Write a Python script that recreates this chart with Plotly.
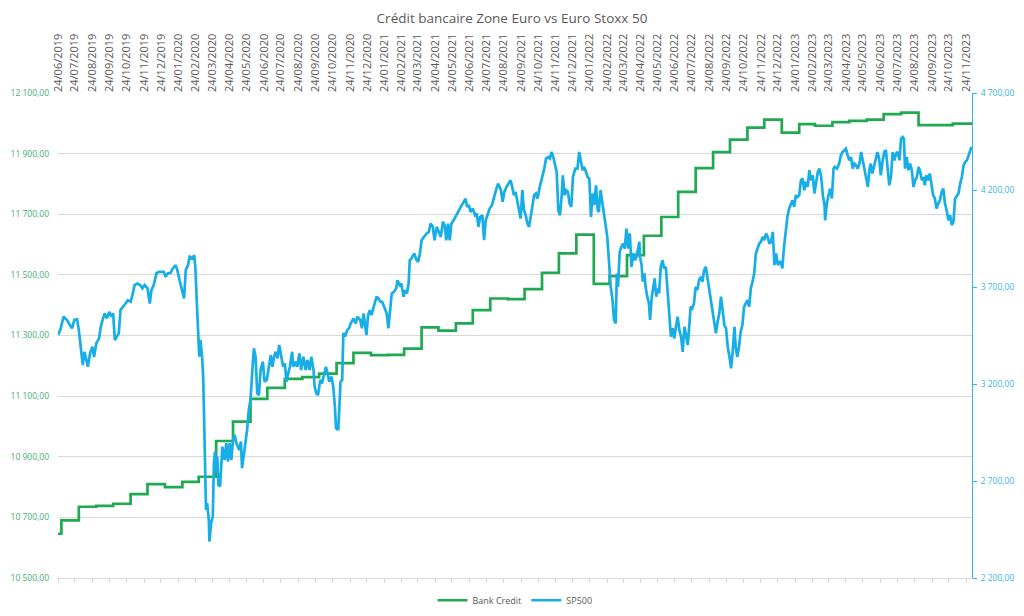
import plotly.graph_objects as go

# ---------------- data ----------------
bank_dates = ["2019-06-24", "2019-06-30", "2019-07-31", "2019-08-31", "2019-09-30", "2019-10-31",
              "2019-11-30", "2019-12-31", "2020-01-31", "2020-02-29", "2020-03-31", "2020-04-30",
              "2020-05-31", "2020-06-30", "2020-07-31", "2020-08-31", "2020-09-30", "2020-10-31",
              "2020-11-30", "2020-12-31", "2021-01-31", "2021-02-28", "2021-03-31", "2021-04-30",
              "2021-05-31", "2021-06-30", "2021-07-31", "2021-08-31", "2021-09-30", "2021-10-31",
              "2021-11-30", "2021-12-31", "2022-01-31", "2022-02-28", "2022-03-31", "2022-04-30",
              "2022-05-31", "2022-06-30", "2022-07-31", "2022-08-31", "2022-09-30", "2022-10-31",
              "2022-11-30", "2022-12-31", "2023-01-31", "2023-02-28", "2023-03-31", "2023-04-30",
              "2023-05-31", "2023-06-30", "2023-07-31", "2023-08-31", "2023-09-30", "2023-10-31",
              "2023-12-04"]
bank_values = [10646, 10690, 10735, 10738, 10745, 10777,
               10810, 10800, 10817, 10834, 10952, 11016,
               11091, 11127, 11157, 11163, 11174, 11209,
               11243, 11235, 11236, 11257, 11327, 11316,
               11340, 11384, 11422, 11420, 11453, 11507,
               11571, 11633, 11470, 11496, 11565, 11629,
               11691, 11774, 11852, 11905, 11946, 11986,
               12012, 11969, 11997, 11992, 12004, 12008,
               12012, 12030, 12035, 11994, 11994, 11999,
               11999]

sp500_2019 = [
    ("2019-06-24", 3452), ("2019-06-28", 3478), ("2019-07-04", 3547), ("2019-07-10", 3530),
    ("2019-07-15", 3504), ("2019-07-19", 3487), ("2019-07-23", 3530), ("2019-07-28", 3533),
    ("2019-07-31", 3478), ("2019-08-04", 3375), ("2019-08-07", 3298), ("2019-08-10", 3366),
    ("2019-08-14", 3324), ("2019-08-16", 3289), ("2019-08-20", 3358), ("2019-08-24", 3392),
    ("2019-08-27", 3341), ("2019-08-31", 3409), ("2019-09-05", 3435), ("2019-09-08", 3495),
    ("2019-09-12", 3538), ("2019-09-15", 3564), ("2019-09-19", 3538), ("2019-09-23", 3572),
    ("2019-09-27", 3547), ("2019-09-30", 3564), ("2019-10-03", 3427), ("2019-10-07", 3444),
    ("2019-10-10", 3461), ("2019-10-13", 3581), ("2019-10-18", 3598), ("2019-10-22", 3615),
    ("2019-10-26", 3632), ("2019-10-31", 3624), ("2019-11-04", 3667), ("2019-11-07", 3710),
    ("2019-11-12", 3718), ("2019-11-17", 3710), ("2019-11-21", 3693), ("2019-11-25", 3710),
    ("2019-11-30", 3693), ("2019-12-04", 3615), ("2019-12-07", 3684), ("2019-12-11", 3710),
    ("2019-12-16", 3770), ("2019-12-20", 3778), ("2019-12-25", 3778), ("2019-12-29", 3778),
]
sp500_2020 = [
    ("2020-01-01", 3753), ("2020-01-05", 3770), ("2020-01-10", 3773), ("2020-01-14", 3796),
    ("2020-01-19", 3813), ("2020-01-22", 3787), ("2020-01-26", 3735), ("2020-01-30", 3693),
    ("2020-02-03", 3641), ("2020-02-06", 3787), ("2020-02-10", 3813), ("2020-02-13", 3856),
    ("2020-02-18", 3847), ("2020-02-21", 3864), ("2020-02-23", 3804), ("2020-02-26", 3598),
    ("2020-02-28", 3444), ("2020-03-01", 3341), ("2020-03-03", 3427), ("2020-03-06", 3341),
    ("2020-03-08", 3238), ("2020-03-10", 2912), ("2020-03-13", 2551), ("2020-03-15", 2586),
    ("2020-03-18", 2500), ("2020-03-19", 2388), ("2020-03-22", 2483), ("2020-03-25", 2517),
    ("2020-03-27", 2792), ("2020-03-29", 2852), ("2020-03-31", 2749), ("2020-04-02", 2826),
    ("2020-04-04", 2680), ("2020-04-07", 2672), ("2020-04-09", 2792), ("2020-04-11", 2877),
    ("2020-04-15", 2809), ("2020-04-18", 2895), ("2020-04-21", 2800), ("2020-04-24", 2895),
    ("2020-04-27", 2809), ("2020-04-30", 2912), ("2020-05-03", 2937), ("2020-05-06", 2895),
    ("2020-05-11", 2860), ("2020-05-14", 2903), ("2020-05-16", 2766), ("2020-05-19", 2826),
    ("2020-05-22", 2912), ("2020-05-25", 2963), ("2020-05-28", 3066), ("2020-05-31", 3118),
    ("2020-06-03", 3255), ("2020-06-06", 3384), ("2020-06-09", 3341), ("2020-06-12", 3152),
    ("2020-06-15", 3143), ("2020-06-18", 3272), ("2020-06-22", 3315), ("2020-06-25", 3212),
    ("2020-06-29", 3221), ("2020-07-03", 3306), ("2020-07-06", 3349), ("2020-07-09", 3289),
    ("2020-07-12", 3341), ("2020-07-15", 3366), ("2020-07-18", 3332), ("2020-07-21", 3401),
    ("2020-07-25", 3324), ("2020-07-28", 3289), ("2020-07-31", 3306), ("2020-08-03", 3212),
    ("2020-08-06", 3255), ("2020-08-09", 3289), ("2020-08-13", 3366), ("2020-08-15", 3289),
    ("2020-08-19", 3315), ("2020-08-22", 3289), ("2020-08-26", 3358), ("2020-08-29", 3272),
    ("2020-09-02", 3341), ("2020-09-06", 3272), ("2020-09-09", 3324), ("2020-09-13", 3272),
    ("2020-09-16", 3341), ("2020-09-20", 3272), ("2020-09-22", 3186), ("2020-09-25", 3152),
    ("2020-09-28", 3143), ("2020-10-02", 3221), ("2020-10-05", 3203), ("2020-10-09", 3255),
    ("2020-10-12", 3289), ("2020-10-15", 3255), ("2020-10-18", 3212), ("2020-10-22", 3238),
    ("2020-10-25", 3186), ("2020-10-28", 3083), ("2020-10-30", 2972), ("2020-11-03", 2963),
    ("2020-11-05", 3118), ("2020-11-07", 3212), ("2020-11-10", 3221), ("2020-11-12", 3461),
    ("2020-11-16", 3452), ("2020-11-19", 3478), ("2020-11-22", 3487), ("2020-11-25", 3512),
    ("2020-11-30", 3538), ("2020-12-04", 3512), ("2020-12-07", 3547), ("2020-12-12", 3530),
    ("2020-12-15", 3487), ("2020-12-18", 3564), ("2020-12-20", 3521), ("2020-12-23", 3452),
    ("2020-12-26", 3555), ("2020-12-29", 3581),
]
sp500_2021 = [
    ("2021-01-01", 3555), ("2021-01-05", 3598), ("2021-01-10", 3650), ("2021-01-13", 3641),
    ("2021-01-17", 3624), ("2021-01-20", 3624), ("2021-01-23", 3598), ("2021-01-28", 3564),
    ("2021-01-31", 3487), ("2021-02-03", 3564), ("2021-02-06", 3667), ("2021-02-10", 3675),
    ("2021-02-14", 3693), ("2021-02-16", 3735), ("2021-02-20", 3710), ("2021-02-23", 3718),
    ("2021-02-27", 3650), ("2021-03-02", 3684), ("2021-03-05", 3667), ("2021-03-08", 3718),
    ("2021-03-10", 3838), ("2021-03-13", 3847), ("2021-03-18", 3873), ("2021-03-22", 3838),
    ("2021-03-25", 3830), ("2021-03-28", 3873), ("2021-03-31", 3941), ("2021-04-04", 3958),
    ("2021-04-09", 3976), ("2021-04-13", 3984), ("2021-04-16", 4027), ("2021-04-20", 4010),
    ("2021-04-23", 3941), ("2021-04-27", 4010), ("2021-05-01", 3984), ("2021-05-04", 3958),
    ("2021-05-08", 4036), ("2021-05-11", 4019), ("2021-05-14", 3941), ("2021-05-17", 4027),
    ("2021-05-20", 3941), ("2021-05-23", 4027), ("2021-05-27", 4044), ("2021-05-31", 4070),
    ("2021-06-04", 4087), ("2021-06-07", 4104), ("2021-06-10", 4122), ("2021-06-14", 4139),
    ("2021-06-17", 4156), ("2021-06-20", 4113), ("2021-06-23", 4122), ("2021-06-26", 4087),
    ("2021-06-30", 4104), ("2021-07-04", 4070), ("2021-07-07", 4079), ("2021-07-10", 4010),
    ("2021-07-13", 4061), ("2021-07-17", 4070), ("2021-07-20", 3941), ("2021-07-23", 4044),
    ("2021-07-26", 4070), ("2021-07-30", 4104), ("2021-08-03", 4122), ("2021-08-07", 4173),
    ("2021-08-11", 4207), ("2021-08-14", 4233), ("2021-08-19", 4199), ("2021-08-22", 4139),
    ("2021-08-25", 4190), ("2021-08-29", 4216), ("2021-09-01", 4233), ("2021-09-05", 4250),
    ("2021-09-08", 4216), ("2021-09-11", 4173), ("2021-09-14", 4190), ("2021-09-17", 4147),
    ("2021-09-20", 4113), ("2021-09-23", 4053), ("2021-09-26", 4199), ("2021-09-29", 4096),
    ("2021-10-02", 4070), ("2021-10-05", 4027), ("2021-10-08", 4010), ("2021-10-11", 4061),
    ("2021-10-14", 4104), ("2021-10-17", 4173), ("2021-10-20", 4182), ("2021-10-23", 4156),
    ("2021-10-27", 4216), ("2021-10-31", 4259), ("2021-11-04", 4310), ("2021-11-07", 4362),
    ("2021-11-11", 4370), ("2021-11-14", 4362), ("2021-11-17", 4396), ("2021-11-20", 4370),
    ("2021-11-23", 4336), ("2021-11-26", 4293), ("2021-11-29", 4096), ("2021-12-02", 4070),
    ("2021-12-05", 4173), ("2021-12-07", 4276), ("2021-12-10", 4173), ("2021-12-13", 4199),
    ("2021-12-16", 4190), ("2021-12-19", 4130), ("2021-12-22", 4113), ("2021-12-25", 4267),
    ("2021-12-29", 4310),
]
sp500_2022 = [
    ("2022-01-02", 4310), ("2022-01-05", 4396), ("2022-01-08", 4353), ("2022-01-11", 4302),
    ("2022-01-14", 4319), ("2022-01-17", 4293), ("2022-01-20", 4267), ("2022-01-23", 4259),
    ("2022-01-26", 4061), ("2022-01-29", 4182), ("2022-02-01", 4122), ("2022-02-04", 4224),
    ("2022-02-07", 4096), ("2022-02-09", 4087), ("2022-02-12", 4199), ("2022-02-15", 4139),
    ("2022-02-18", 4079), ("2022-02-21", 4001), ("2022-02-24", 3958), ("2022-02-27", 3830),
    ("2022-03-02", 3701), ("2022-03-05", 3641), ("2022-03-08", 3530), ("2022-03-11", 3512),
    ("2022-03-13", 3770), ("2022-03-15", 3701), ("2022-03-18", 3881), ("2022-03-21", 3907),
    ("2022-03-24", 3924), ("2022-03-27", 3898), ("2022-03-30", 4001), ("2022-04-02", 3898),
    ("2022-04-05", 3976), ("2022-04-08", 3804), ("2022-04-11", 3873), ("2022-04-14", 3838),
    ("2022-04-17", 3856), ("2022-04-22", 3933), ("2022-04-23", 3856), ("2022-04-26", 3813),
    ("2022-04-28", 3727), ("2022-05-01", 3770), ("2022-05-03", 3701), ("2022-05-06", 3650),
    ("2022-05-09", 3615), ("2022-05-11", 3530), ("2022-05-14", 3650), ("2022-05-17", 3701),
    ("2022-05-19", 3744), ("2022-05-22", 3650), ("2022-05-24", 3693), ("2022-05-27", 3667),
    ("2022-05-30", 3804), ("2022-06-02", 3838), ("2022-06-05", 3796), ("2022-06-08", 3804),
    ("2022-06-11", 3667), ("2022-06-14", 3564), ("2022-06-17", 3444), ("2022-06-20", 3487),
    ("2022-06-23", 3435), ("2022-06-26", 3495), ("2022-06-29", 3547), ("2022-07-02", 3478),
    ("2022-07-05", 3444), ("2022-07-08", 3366), ("2022-07-11", 3495), ("2022-07-14", 3452),
    ("2022-07-17", 3401), ("2022-07-20", 3512), ("2022-07-22", 3598), ("2022-07-25", 3590),
    ("2022-07-28", 3615), ("2022-07-31", 3701), ("2022-08-03", 3684), ("2022-08-06", 3735),
    ("2022-08-09", 3753), ("2022-08-12", 3727), ("2022-08-15", 3787), ("2022-08-18", 3804),
    ("2022-08-21", 3744), ("2022-08-24", 3684), ("2022-08-27", 3650), ("2022-08-30", 3581),
    ("2022-09-02", 3512), ("2022-09-05", 3461), ("2022-09-08", 3521), ("2022-09-11", 3564),
    ("2022-09-14", 3650), ("2022-09-17", 3564), ("2022-09-20", 3504), ("2022-09-23", 3487),
    ("2022-09-26", 3392), ("2022-09-29", 3341), ("2022-10-02", 3281), ("2022-10-05", 3375),
    ("2022-10-08", 3495), ("2022-10-10", 3392), ("2022-10-13", 3341), ("2022-10-16", 3392),
    ("2022-10-19", 3469), ("2022-10-22", 3504), ("2022-10-25", 3598), ("2022-10-28", 3615),
    ("2022-10-31", 3632), ("2022-11-03", 3598), ("2022-11-06", 3693), ("2022-11-09", 3727),
    ("2022-11-12", 3770), ("2022-11-15", 3873), ("2022-11-18", 3898), ("2022-11-21", 3924),
    ("2022-11-24", 3933), ("2022-11-27", 3958), ("2022-11-30", 3941), ("2022-12-03", 3976),
    ("2022-12-06", 3958), ("2022-12-09", 3924), ("2022-12-12", 3933), ("2022-12-15", 3984),
    ("2022-12-18", 3813), ("2022-12-21", 3873), ("2022-12-24", 3813), ("2022-12-27", 3830),
    ("2022-12-29", 3830),
]
sp500_2023 = [
    ("2023-01-01", 3796), ("2023-01-04", 3907), ("2023-01-07", 3993), ("2023-01-10", 4061),
    ("2023-01-13", 4104), ("2023-01-16", 4130), ("2023-01-19", 4147), ("2023-01-22", 4113),
    ("2023-01-25", 4173), ("2023-01-28", 4164), ("2023-01-31", 4173), ("2023-02-03", 4250),
    ("2023-02-06", 4259), ("2023-02-09", 4199), ("2023-02-12", 4242), ("2023-02-15", 4216),
    ("2023-02-18", 4302), ("2023-02-21", 4250), ("2023-02-24", 4276), ("2023-02-27", 4182),
    ("2023-03-02", 4250), ("2023-03-05", 4293), ("2023-03-08", 4310), ("2023-03-11", 4267),
    ("2023-03-14", 4173), ("2023-03-17", 4122), ("2023-03-18", 4044), ("2023-03-21", 4130),
    ("2023-03-24", 4173), ("2023-03-27", 4207), ("2023-03-30", 4156), ("2023-04-02", 4310),
    ("2023-04-04", 4319), ("2023-04-08", 4310), ("2023-04-12", 4336), ("2023-04-15", 4379),
    ("2023-04-18", 4396), ("2023-04-21", 4405), ("2023-04-24", 4413), ("2023-04-27", 4379),
    ("2023-04-30", 4353), ("2023-05-03", 4370), ("2023-05-06", 4310), ("2023-05-09", 4336),
    ("2023-05-12", 4327), ("2023-05-15", 4310), ("2023-05-18", 4336), ("2023-05-21", 4396),
    ("2023-05-24", 4353), ("2023-05-27", 4302), ("2023-05-30", 4267), ("2023-06-02", 4216),
    ("2023-06-05", 4310), ("2023-06-07", 4336), ("2023-06-10", 4285), ("2023-06-13", 4327),
    ("2023-06-16", 4370), ("2023-06-19", 4396), ("2023-06-22", 4362), ("2023-06-25", 4276),
    ("2023-06-28", 4345), ("2023-07-01", 4396), ("2023-07-04", 4405), ("2023-07-07", 4319),
    ("2023-07-10", 4224), ("2023-07-13", 4267), ("2023-07-16", 4396), ("2023-07-19", 4353),
    ("2023-07-22", 4387), ("2023-07-25", 4396), ("2023-07-28", 4353), ("2023-07-31", 4465),
    ("2023-08-03", 4473), ("2023-08-05", 4465), ("2023-08-07", 4310), ("2023-08-10", 4370),
    ("2023-08-13", 4302), ("2023-08-16", 4336), ("2023-08-19", 4302), ("2023-08-22", 4216),
    ("2023-08-25", 4250), ("2023-08-28", 4267), ("2023-08-31", 4319), ("2023-09-03", 4293),
    ("2023-09-06", 4250), ("2023-09-09", 4267), ("2023-09-11", 4224), ("2023-09-14", 4276),
    ("2023-09-17", 4250), ("2023-09-20", 4285), ("2023-09-23", 4233), ("2023-09-26", 4173),
    ("2023-09-29", 4156), ("2023-10-02", 4104), ("2023-10-05", 4130), ("2023-10-08", 4147),
    ("2023-10-11", 4190), ("2023-10-14", 4207), ("2023-10-17", 4130), ("2023-10-20", 4096),
    ("2023-10-23", 4044), ("2023-10-26", 4070), ("2023-10-29", 4019), ("2023-11-01", 4036),
    ("2023-11-04", 4156), ("2023-11-07", 4173), ("2023-11-10", 4182), ("2023-11-13", 4233),
    ("2023-11-16", 4267), ("2023-11-19", 4327), ("2023-11-22", 4345), ("2023-11-25", 4353),
    ("2023-11-28", 4379), ("2023-11-30", 4396), ("2023-12-03", 4422),
]

# monthly tick positions / labels (24th of each month, 06/2019 .. 11/2023)
tick_months = [(2019 + (5 + i) // 12, (5 + i) % 12 + 1) for i in range(54)]
tick_dates = [f"{y}-{m:02d}-24" for y, m in tick_months]
tick_labels = [f"24/{m:02d}/{y}" for y, m in tick_months]

x_range = ["2019-06-24", "2023-12-04"]
left_range = [10500, 12100]
right_range = [2200, 4700]

# ---------------- figure ----------------
sp500 = sp500_2019 + sp500_2020 + sp500_2021 + sp500_2022 + sp500_2023
sp_dates = [d for d, _ in sp500]
sp_values = [v for _, v in sp500]

GREEN = "#1FAA52"
BLUE = "#17AEE8"
GREEN_TXT = "#3FAE72"
BLUE_TXT = "#35B6E6"
GRID = "#D9D9D9"
FONT = "Open Sans"

fig = go.Figure()
fig.add_trace(go.Scatter(x=bank_dates, y=bank_values, name="Bank Credit", mode="lines",
                         line=dict(color=GREEN, width=2.7, shape="hv"),
                         xaxis="x", yaxis="y"))
fig.add_trace(go.Scatter(x=sp_dates, y=sp_values, name="SP500", mode="lines",
                         line=dict(color=BLUE, width=2.7),
                         xaxis="x", yaxis="y2"))
# carrier trace so the top date axis is drawn
fig.add_trace(go.Scatter(x=[bank_dates[0]], y=[bank_values[0]], mode="markers",
                         marker=dict(opacity=0), showlegend=False, hoverinfo="skip",
                         xaxis="x2", yaxis="y"))

# the page body adds an 8px offset, so the figure is 1008x600 inside the 1024x616 window
fig.update_layout(
    width=1008, height=600,
    margin=dict(l=50, r=44, t=85, b=30, autoexpand=False),
    paper_bgcolor="white", plot_bgcolor="white",
    separators=", ",
    font=dict(family=FONT, color="#595959"),
    title=dict(text="Crédit bancaire Zone Euro vs Euro Stoxx 50", x=0.5, xanchor="center",
               y=0.983, yanchor="middle", font=dict(family=FONT, size=13.5, color="#595959")),
    xaxis=dict(type="date", range=x_range, showgrid=False, zeroline=False, automargin=False,
               showline=True, linecolor=GRID, linewidth=1,
               tickmode="array", tickvals=tick_dates, showticklabels=False,
               ticks="outside", ticklen=4, tickcolor=GRID),
    xaxis2=dict(type="date", range=x_range, overlaying="x", side="top", anchor="y",
                showgrid=False, zeroline=False, showline=False, automargin=False,
                tickmode="array", tickvals=tick_dates, ticktext=tick_labels,
                tickangle=-90, ticks="", tickfont=dict(family=FONT, size=11, color="#595959")),
    yaxis=dict(range=left_range, tick0=10500, dtick=200, tickformat=",.2f", automargin=False,
               showgrid=True, gridcolor=GRID, gridwidth=1, zeroline=False, showline=False,
               ticks="", ticklabelstandoff=8,
               tickfont=dict(family=FONT, size=8.5, color=GREEN_TXT)),
    yaxis2=dict(range=right_range, tick0=2200, dtick=500, tickformat=",.2f", automargin=False,
                overlaying="y", side="right", anchor="x",
                showgrid=False, zeroline=False, showline=True, linecolor=BLUE_TXT, linewidth=1,
                ticks="outside", ticklen=4, tickcolor=BLUE_TXT, ticklabelstandoff=2,
                tickfont=dict(family=FONT, size=8.5, color=BLUE_TXT)),
    legend=dict(orientation="h", x=0.5, xanchor="center", y=-0.016, yanchor="top",
                font=dict(family=FONT, size=9, color="#595959"), bgcolor="rgba(0,0,0,0)"),
    showlegend=True,
)

fig.write_html("out.html")
